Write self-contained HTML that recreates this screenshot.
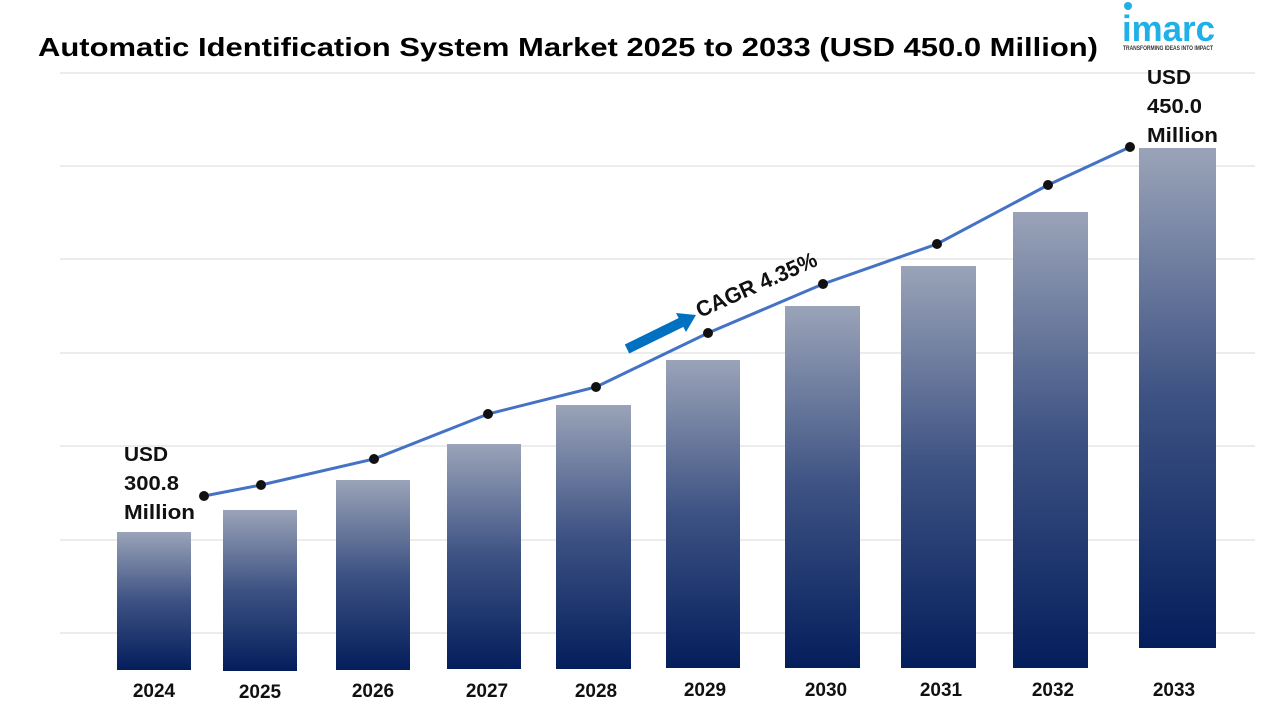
<!DOCTYPE html>
<html><head><meta charset="utf-8"><style>
body{margin:0;background:#fff;width:1280px;height:720px;overflow:hidden;font-family:"Liberation Sans",sans-serif}
</style></head><body>
<svg width="1280" height="720" xmlns="http://www.w3.org/2000/svg" font-family="Liberation Sans, sans-serif">
<defs><linearGradient id="g" x1="0" y1="0" x2="0" y2="1"><stop offset="0" stop-color="#9aa3b8"/><stop offset="0.5" stop-color="#3d5283"/><stop offset="1" stop-color="#041e5c"/></linearGradient></defs>
<text x="38" y="56" font-size="26" font-weight="bold" fill="#000" textLength="1060" lengthAdjust="spacingAndGlyphs">Automatic Identification System Market 2025 to 2033 (USD 450.0 Million)</text>
<g stroke="#d9d9d9" stroke-width="1">
<line x1="60" y1="73" x2="1255" y2="73"/><line x1="60" y1="166" x2="1255" y2="166"/><line x1="60" y1="259" x2="1255" y2="259"/><line x1="60" y1="353" x2="1255" y2="353"/><line x1="60" y1="446" x2="1255" y2="446"/><line x1="60" y1="540" x2="1255" y2="540"/><line x1="60" y1="633" x2="1255" y2="633"/>
</g>
<g fill="url(#g)">
<rect x="117" y="532" width="74" height="138"/><rect x="223" y="510" width="74" height="161"/><rect x="336" y="480" width="74" height="190"/><rect x="447" y="444" width="74" height="225"/><rect x="556" y="405" width="75" height="264"/><rect x="666" y="360" width="74" height="308"/><rect x="785" y="306" width="75" height="362"/><rect x="901" y="266" width="75" height="402"/><rect x="1013" y="212" width="75" height="456"/><rect x="1139" y="148" width="77" height="500"/>
</g>
<polyline points="204,496 261,485 374,459 488,414 596,387 708,333 823,284 937,244 1048,185 1130,147" fill="none" stroke="#4472c4" stroke-width="3"/>
<g fill="#111"><circle cx="204" cy="496" r="5"/><circle cx="261" cy="485" r="5"/><circle cx="374" cy="459" r="5"/><circle cx="488" cy="414" r="5"/><circle cx="596" cy="387" r="5"/><circle cx="708" cy="333" r="5"/><circle cx="823" cy="284" r="5"/><circle cx="937" cy="244" r="5"/><circle cx="1048" cy="185" r="5"/><circle cx="1130" cy="147" r="5"/></g>
<g font-size="19" font-weight="bold" fill="#111" text-anchor="middle">
<text x="154" y="697">2024</text><text x="260" y="698">2025</text><text x="373" y="697">2026</text><text x="487" y="697">2027</text><text x="596" y="697">2028</text><text x="705" y="696">2029</text><text x="826" y="696">2030</text><text x="941" y="696">2031</text><text x="1053" y="696">2032</text><text x="1174" y="696">2033</text>
</g>
<g font-size="20" font-weight="bold" fill="#111">
<text x="124" y="461" textLength="44" lengthAdjust="spacingAndGlyphs">USD</text><text x="124" y="490" textLength="55" lengthAdjust="spacingAndGlyphs">300.8</text><text x="124" y="519" textLength="71" lengthAdjust="spacingAndGlyphs">Million</text>
<text x="1147" y="84" textLength="44" lengthAdjust="spacingAndGlyphs">USD</text><text x="1147" y="113" textLength="55" lengthAdjust="spacingAndGlyphs">450.0</text><text x="1147" y="142" textLength="71" lengthAdjust="spacingAndGlyphs">Million</text>
</g>
<line x1="627" y1="349" x2="682" y2="322" stroke="#0070c0" stroke-width="10"/>
<polygon points="696,315 676,313 686,332" fill="#0070c0"/>
<text x="0" y="0" font-size="22" font-weight="bold" fill="#111" transform="translate(700,318) rotate(-24)" textLength="130" lengthAdjust="spacingAndGlyphs">CAGR 4.35%</text>
<circle cx="1128" cy="6" r="4" fill="#1fb0e8"/>
<text x="1122" y="41" font-size="36" font-weight="bold" fill="#1fb0e8" textLength="93" lengthAdjust="spacingAndGlyphs">imarc</text>
<text x="1123" y="50" font-size="6" font-weight="bold" fill="#333" textLength="90" lengthAdjust="spacingAndGlyphs">TRANSFORMING IDEAS INTO IMPACT</text>
</svg>
</body></html>
